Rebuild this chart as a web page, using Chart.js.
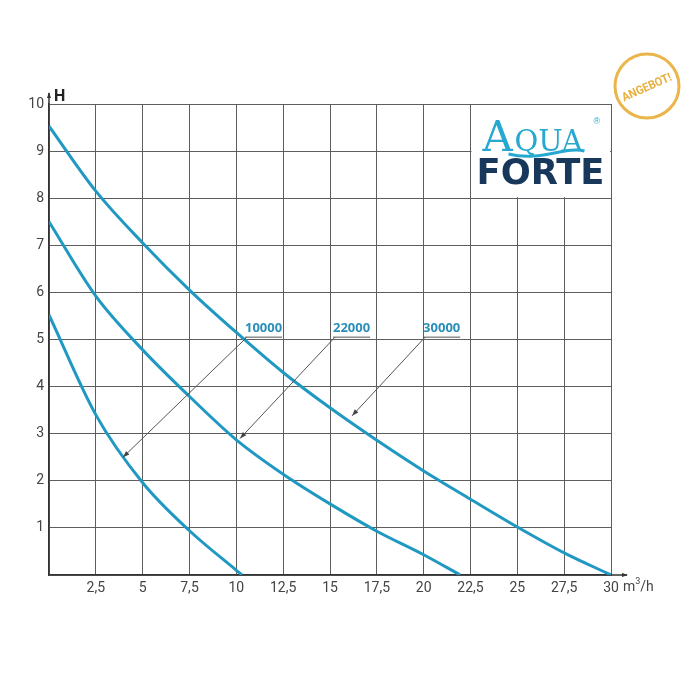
<!DOCTYPE html>
<html>
<head>
<meta charset="utf-8">
<script src="https://cdn.jsdelivr.net/npm/chart.js@4.4.1/dist/chart.umd.min.js"></script>
<style>
  html, body { margin: 0; padding: 0; background: #fff; }
  #wrap { width: 700px; height: 683px; }
</style>
</head>
<body>
<div id="wrap"><canvas id="myCanvas" width="700" height="683"></canvas></div>
<script>
// Pump curves (flow in m3/h, head H in m)
const q10000 = [0, 2.5, 5, 7.5, 10, 10.3];
const h10000 = [5.52, 3.4, 1.96, 0.94, 0.1, 0];
const q22000 = [0, 2.5, 5, 7.5, 10, 12.5, 15, 17.5, 20, 21.95];
const h22000 = [7.5, 5.92, 4.78, 3.79, 2.87, 2.14, 1.51, 0.93, 0.43, 0];
const q30000 = [0, 2.5, 5, 7.5, 10, 12.5, 15, 17.5, 20, 22.5, 25, 27.5, 30];
const h30000 = [9.53, 8.15, 7.05, 6.05, 5.15, 4.3, 3.55, 2.86, 2.21, 1.61, 1.02, 0.47, 0];

// labels on the curves: [label x, label y], [arrow x, arrow y] in data units
const curveLabels = ['10000', '22000', '30000'];
const labelPos = [[10.46, 5.05], [15.16, 5.05], [19.97, 5.05]];
const arrowPos = [[3.95, 2.5], [10.2, 2.9], [16.18, 3.38]];

const curveColor = '#1f98c2';
const tickFont = { family: 'Roboto, "Liberation Sans", sans-serif', size: 14 };

function pts(xs, ys) {
    return xs.map((x, i) => ({ x: x, y: ys[i] }));
}

function ds(xs, ys) {
    return {
        data: pts(xs, ys),
        borderColor: curveColor,
        borderWidth: 3,
        pointRadius: 0,
        fill: false,
        cubicInterpolationMode: 'monotone',
    };
}

// extra drawing: axis arrows, unit labels, curve labels, logo, stamp
const extras = {
    id: 'extras',
    afterDraw(chart) {
        const c = chart.ctx;
        const xs = chart.scales.x, ys = chart.scales.y;
        const x0 = xs.getPixelForValue(0), y0 = ys.getPixelForValue(0);
        const xMax = xs.getPixelForValue(30), yMax = ys.getPixelForValue(10);
        c.save();

        // axis extensions with small arrows
        c.strokeStyle = '#333';
        c.fillStyle = '#333';
        c.lineWidth = 1.5;
        c.beginPath();
        c.moveTo(x0, yMax); c.lineTo(x0, yMax - 11);
        c.moveTo(xMax, y0); c.lineTo(xMax + 16, y0);
        c.stroke();
        c.beginPath();
        c.moveTo(x0 - 2, yMax - 6); c.lineTo(x0, yMax - 12); c.lineTo(x0 + 2, yMax - 6); c.fill();
        c.beginPath();
        c.moveTo(xMax + 11, y0 - 2); c.lineTo(xMax + 17, y0); c.lineTo(xMax + 11, y0 + 2); c.fill();

        // axis titles
        c.fillStyle = '#222';
        c.font = 'bold 16px Roboto, "Liberation Sans", sans-serif';
        c.textAlign = 'left';
        c.textBaseline = 'alphabetic';
        c.fillText('H', x0 + 5, yMax - 3);
        c.fillStyle = '#444';
        c.font = '14px Roboto, "Liberation Sans", sans-serif';
        c.fillText('m', xMax + 12, y0 + 16);
        const mw = c.measureText('m').width;
        c.font = '9px Roboto, sans-serif';
        c.fillText('3', xMax + 12 + mw, y0 + 9);
        c.font = '14px Roboto, "Liberation Sans", sans-serif';
        c.fillText('/h', xMax + 12 + mw + 5, y0 + 16);

        // curve labels with leader lines
        c.font = 'bold 13px "Open Sans", "DejaVu Sans", sans-serif';
        curveLabels.forEach((t, i) => {
            const lx = xs.getPixelForValue(labelPos[i][0]);
            const ly = ys.getPixelForValue(labelPos[i][1]);
            const ax = xs.getPixelForValue(arrowPos[i][0]);
            const ay = ys.getPixelForValue(arrowPos[i][1]);
            const w = c.measureText(t).width;
            c.fillStyle = '#2a8fb8';
            c.fillText(t, lx, ly - 5);
            c.strokeStyle = '#555';
            c.lineWidth = 1;
            c.beginPath();
            c.moveTo(lx, ly); c.lineTo(lx + w, ly);
            c.moveTo(lx + 2, ly); c.lineTo(ax, ay);
            c.stroke();
            const ang = Math.atan2(ay - ly, ax - lx - 2);
            c.fillStyle = '#444';
            c.beginPath();
            c.moveTo(ax, ay);
            c.lineTo(ax - 7 * Math.cos(ang - 0.35), ay - 7 * Math.sin(ang - 0.35));
            c.lineTo(ax - 7 * Math.cos(ang + 0.35), ay - 7 * Math.sin(ang + 0.35));
            c.fill();
        });

        // logo box
        const bx1 = xs.getPixelForValue(22.5), bx2 = xMax;
        const by1 = yMax, by2 = ys.getPixelForValue(8);
        c.fillStyle = '#fff';
        c.fillRect(bx1 + 1, by1 + 1, bx2 - bx1 - 2, by2 - by1 - 2);
        c.fillStyle = '#27a8d0';
        c.font = '42px "DejaVu Serif", "Liberation Serif", serif';
        c.fillText('A', bx1 + 12, by1 + 47);
        c.font = '29px "DejaVu Serif", "Liberation Serif", serif';
        c.fillText('QUA', bx1 + 44, by1 + 47);
        c.font = '9px sans-serif';
        c.fillText('®', bx1 + 123, by1 + 20);
        c.strokeStyle = '#27a8d0';
        c.lineWidth = 3;
        c.beginPath();
        c.moveTo(bx1 + 38, by1 + 50);
        c.bezierCurveTo(bx1 + 70, by1 + 58, bx1 + 95, by1 + 42, bx1 + 114, by1 + 47);
        c.stroke();
        c.fillStyle = '#17375b';
        c.font = '900 36px "DejaVu Sans", "Liberation Sans", sans-serif';
        const fw = c.measureText('FORTE').width;
        c.save();
        c.translate(bx1 + 6, by1 + 80);
        c.scale(128 / fw, 1);
        c.fillText('FORTE', 0, 0);
        c.restore();

        // offer stamp
        c.strokeStyle = '#eab54a';
        c.lineWidth = 3;
        c.beginPath();
        c.arc(647, 86, 32, 0, Math.PI * 2);
        c.stroke();
        c.save();
        c.translate(647, 88);
        c.rotate(-0.42);
        c.fillStyle = '#e8b040';
        c.font = 'bold 12px Roboto, "Liberation Sans", sans-serif';
        c.textAlign = 'center';
        c.textBaseline = 'middle';
        c.scale(0.92, 1);
        c.fillText('ANGEBOT!', 0, 0);
        c.restore();

        c.restore();
    }
};

const chart = new Chart(document.getElementById('myCanvas').getContext('2d'), {
    type: 'line',
    data: {
        datasets: [ds(q10000, h10000), ds(q22000, h22000), ds(q30000, h30000)],
    },
    options: {
        responsive: false,
        animation: false,
        layout: { padding: { left: 0, right: 89, top: 104, bottom: 88 } },
        plugins: { legend: { display: false }, tooltip: { enabled: false } },
        scales: {
            x: {
                type: 'linear',
                min: 0,
                max: 30,
                afterFit: s => { s.height = 20; },
                border: { color: '#333', width: 1.5 },
                grid: { color: '#5e5e5e', lineWidth: 1, drawTicks: false },
                ticks: {
                    stepSize: 2.5,
                    padding: 5,
                    color: '#444',
                    font: tickFont,
                    maxRotation: 0,
                    autoSkip: false,
                    callback: v => v === 0 ? '' : String(v).replace('.', ','),
                },
            },
            y: {
                min: 0,
                max: 10,
                afterFit: s => { s.width = 49; },
                border: { color: '#333', width: 1.5 },
                grid: { color: '#5e5e5e', lineWidth: 1, drawTicks: false },
                ticks: {
                    stepSize: 1,
                    padding: 5,
                    color: '#444',
                    font: tickFont,
                    callback: v => v === 0 ? '' : String(v),
                },
            },
        },
    },
    plugins: [extras],
});
</script>
</body>
</html>
